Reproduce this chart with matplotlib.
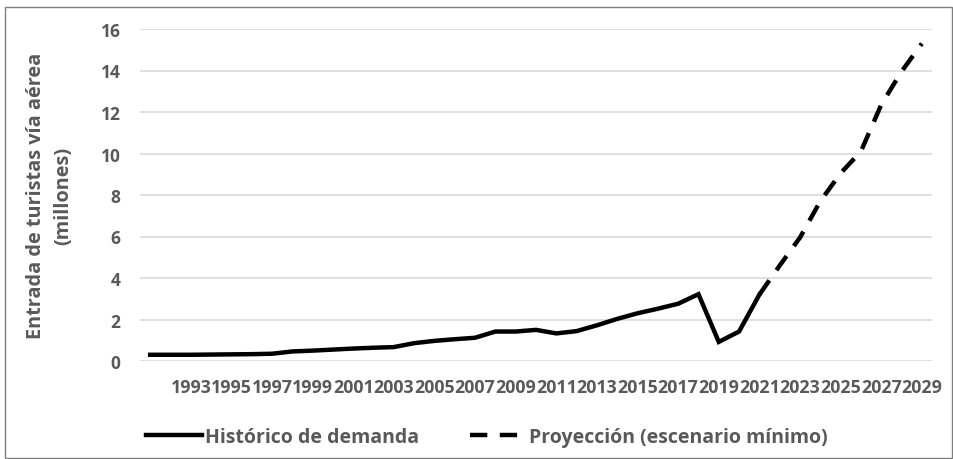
import matplotlib
matplotlib.use('Agg')
import numpy as np
import matplotlib.pyplot as plt
from matplotlib.patches import Rectangle

# historical demand (millions), 1991-2021
hist_years = list(range(1991, 2022))
hist_values = [0.30, 0.30, 0.30, 0.31, 0.32, 0.33, 0.35, 0.46, 0.50, 0.55,
               0.60, 0.64, 0.67, 0.86, 0.97, 1.05, 1.12, 1.42, 1.42, 1.50,
               1.33, 1.44, 1.72, 2.03, 2.30, 2.52, 2.76, 3.22, 0.92, 1.42,
               3.20]

# projection (minimum scenario), 2021-2029
proj_years = list(range(2021, 2030))
proj_values = [3.20, 4.60, 5.95, 7.70, 9.05, 10.10, 12.35, 13.95, 15.30]

tick_years = list(range(1993, 2030, 2))
y_ticks = [0, 2, 4, 6, 8, 10, 12, 14, 16]

TEXT_COLOR = '#595959'
GRID_COLOR = '#d9d9d9'

plt.rcParams['font.family'] = ['Open Sans', 'DejaVu Sans']

fig = plt.figure(figsize=(9.54, 4.6), dpi=100)
ax = fig.add_axes([140 / 954, 1 - 362 / 460, 792 / 954, 332 / 460])

ax.plot(hist_years, hist_values, color='black', linewidth=3.2,
        solid_joinstyle='miter', label='Histórico de demanda', clip_on=False)
ax.plot(proj_years, proj_values, color='black', linewidth=3.2,
        linestyle=(0, (3.9, 2.8)), label='Proyección (escenario mínimo)', clip_on=False)

ax.set_xlim(1990.5, 2029.5)
ax.set_ylim(0, 16)
ax.set_yticks(y_ticks)
ax.set_xticks(tick_years)
ax.set_xticklabels([str(y) for y in tick_years])
ax.grid(axis='y', color=GRID_COLOR, linewidth=1.2)
ax.set_axisbelow(True)
for s in ax.spines.values():
    s.set_visible(False)
ax.tick_params(axis='y', length=0, colors=TEXT_COLOR, labelsize=12.5, pad=14)
ax.tick_params(axis='x', length=0, colors=TEXT_COLOR, labelsize=12.8, pad=12)
for lbl in ax.get_xticklabels() + ax.get_yticklabels():
    lbl.set_fontweight('bold')

ax.set_ylabel('Entrada de turistas vía aérea\n(millones)', color=TEXT_COLOR,
              fontsize=14.3, fontweight='bold', linespacing=1.45, labelpad=20)

fig.legend(loc='lower center', bbox_to_anchor=(0.51, -0.012), ncol=2, frameon=False,
           handlelength=2.9, handletextpad=0.15, columnspacing=2.6,
           labelcolor=TEXT_COLOR, prop={'weight': 'bold', 'size': 14})

fig.patches.append(Rectangle((5 / 954, 0.002), 947 / 954, 1 - 8 / 460 - 0.002,
                             transform=fig.transFigure, fill=False,
                             edgecolor='#7f7f7f', linewidth=1.0))

fig.savefig('out.png', dpi=100)
